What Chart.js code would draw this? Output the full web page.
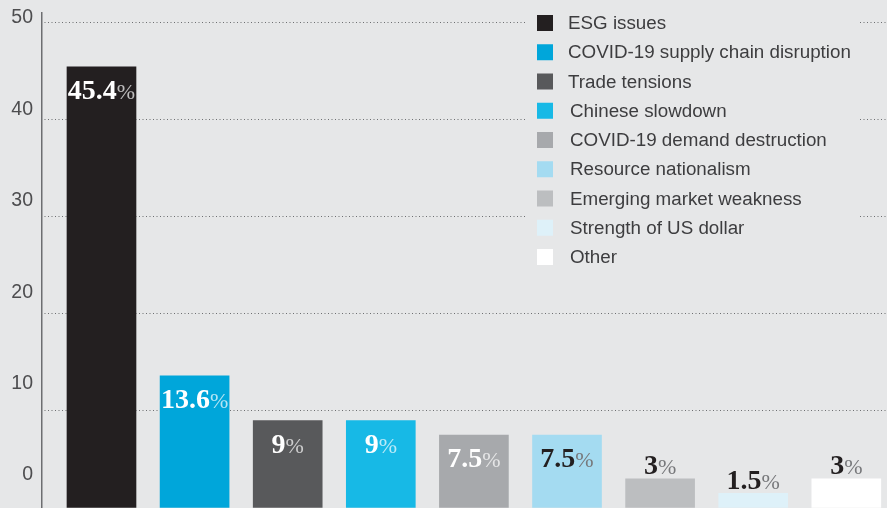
<!DOCTYPE html>
<html>
<head>
<meta charset="utf-8">
<script src="https://cdn.jsdelivr.net/npm/chart.js@4/dist/chart.umd.min.js"></script>
<style>
    html, body { margin: 0; padding: 0; background: #e6e7e8; overflow: hidden; }
    #wrap { position: relative; width: 887px; height: 508px; }
</style>
</head>
<body>
<div id="wrap"><canvas id="risk-chart"></canvas></div>
<script>
// ===== Data =====
const categories = [
    'ESG issues',
    'COVID-19 supply chain disruption',
    'Trade tensions',
    'Chinese slowdown',
    'COVID-19 demand destruction',
    'Resource nationalism',
    'Emerging market weakness',
    'Strength of US dollar',
    'Other'
];
const shares = [45.4, 13.6, 9, 9, 7.5, 7.5, 3, 1.5, 3];
const yTicks = [0, 10, 20, 30, 40, 50];

// ===== Styles =====
const barColors = ['#231f20', '#00a6da', '#58595b', '#17b9e6', '#a7a9ac', '#a4dbf1', '#bcbec0', '#def1f9', '#ffffff'];
const labelInk = ['#ffffff', '#ffffff', '#ffffff', '#ffffff', '#ffffff', '#231f20', '#231f20', '#231f20', '#231f20'];
const BG = '#e6e7e8';

const setTicks = scale => { scale.ticks = yTicks.map(v => ({ value: v })); };

// value labels: bold serif number + light percent sign
const valueLabels = {
    id: 'valueLabels',
    afterDatasetsDraw(chart) {
        const ctx = chart.ctx;
        const meta = chart.getDatasetMeta(0);
        meta.data.forEach((bar, i) => {
            const v = shares[i];
            const inside = v > 5;
            const num = String(v);
            ctx.save();
            ctx.font = 'bold 28px "Liberation Serif", serif';
            const wNum = ctx.measureText(num).width;
            ctx.font = '22px "Liberation Serif", serif';
            const wPct = ctx.measureText('%').width;
            const x0 = bar.x - (wNum + wPct) / 2;
            const base = inside ? bar.y + 32 : bar.y - 4.5;
            ctx.textBaseline = 'alphabetic';
            ctx.textAlign = 'left';
            ctx.font = 'bold 28px "Liberation Serif", serif';
            ctx.fillStyle = labelInk[i];
            ctx.fillText(num, x0, base);
            ctx.font = '22px "Liberation Serif", serif';
            ctx.fillStyle = labelInk[i] === '#ffffff' ? 'rgba(255,255,255,0.7)' : '#77787b';
            ctx.fillText('%', x0 + wNum, base);
            ctx.restore();
        });
    }
};

// legend box in the top right, sitting over the grid lines
const boxLegend = {
    id: 'boxLegend',
    afterDatasetsDraw(chart) {
        const ctx = chart.ctx;
        ctx.save();
        ctx.fillStyle = BG;
        ctx.fillRect(527, 4, 333, 270);
        ctx.font = '18.8px "Liberation Sans", Arial, sans-serif';
        ctx.textBaseline = 'middle';
        categories.forEach((name, i) => {
            const y = 23 + i * 29.25;
            ctx.fillStyle = barColors[i];
            ctx.fillRect(537, y - 8, 16, 16);
            ctx.fillStyle = '#3d3d3f';
            ctx.fillText(name, i < 3 ? 568 : 570, y + 1);
        });
        ctx.restore();
    }
};

new Chart(document.getElementById('risk-chart'), {
    type: 'bar',
    data: {
        datasets: [{
            data: shares.map((v, i) => ({ x: i, y: v })),
            backgroundColor: barColors,
            borderWidth: 0,
            barThickness: 69
        }]
    },
    options: {
        responsive: true,
        maintainAspectRatio: false,
        animation: false,
        layout: { padding: { top: 13, right: 0, bottom: 0, left: 0 } },
        plugins: {
            legend: { display: false },
            tooltip: { enabled: false }
        },
        scales: {
            x: { type: 'linear', display: false, offset: false, min: -0.639, max: 8.437 },
            y: {
                position: 'left',
                weight: 0,
                min: 0,
                max: 50.93,
                afterBuildTicks: setTicks,
                afterFit: s => { s.width = 0; s.paddingTop = 0; s.paddingBottom = 0; },
                ticks: { display: false },
                grid: { color: '#6d6e71', lineWidth: 1, drawTicks: false },
                border: { display: true, color: '#6d6e71', width: 1.5, dash: [1, 2.5], dashOffset: -2 }
            },
            yl: {
                type: 'linear',
                position: 'left',
                weight: 1,
                min: -3.61,
                max: 50.55,
                afterBuildTicks: setTicks,
                afterFit: s => { s.width = 42; s.paddingTop = 0; s.paddingBottom = 0; },
                ticks: {
                    padding: 9,
                    color: '#4d4d4f',
                    font: { family: '"Liberation Sans", Arial, sans-serif', size: 19.5 }
                },
                grid: { display: false, drawTicks: false },
                border: { display: false }
            }
        }
    },
    plugins: [valueLabels, boxLegend]
});
</script>
</body>
</html>
